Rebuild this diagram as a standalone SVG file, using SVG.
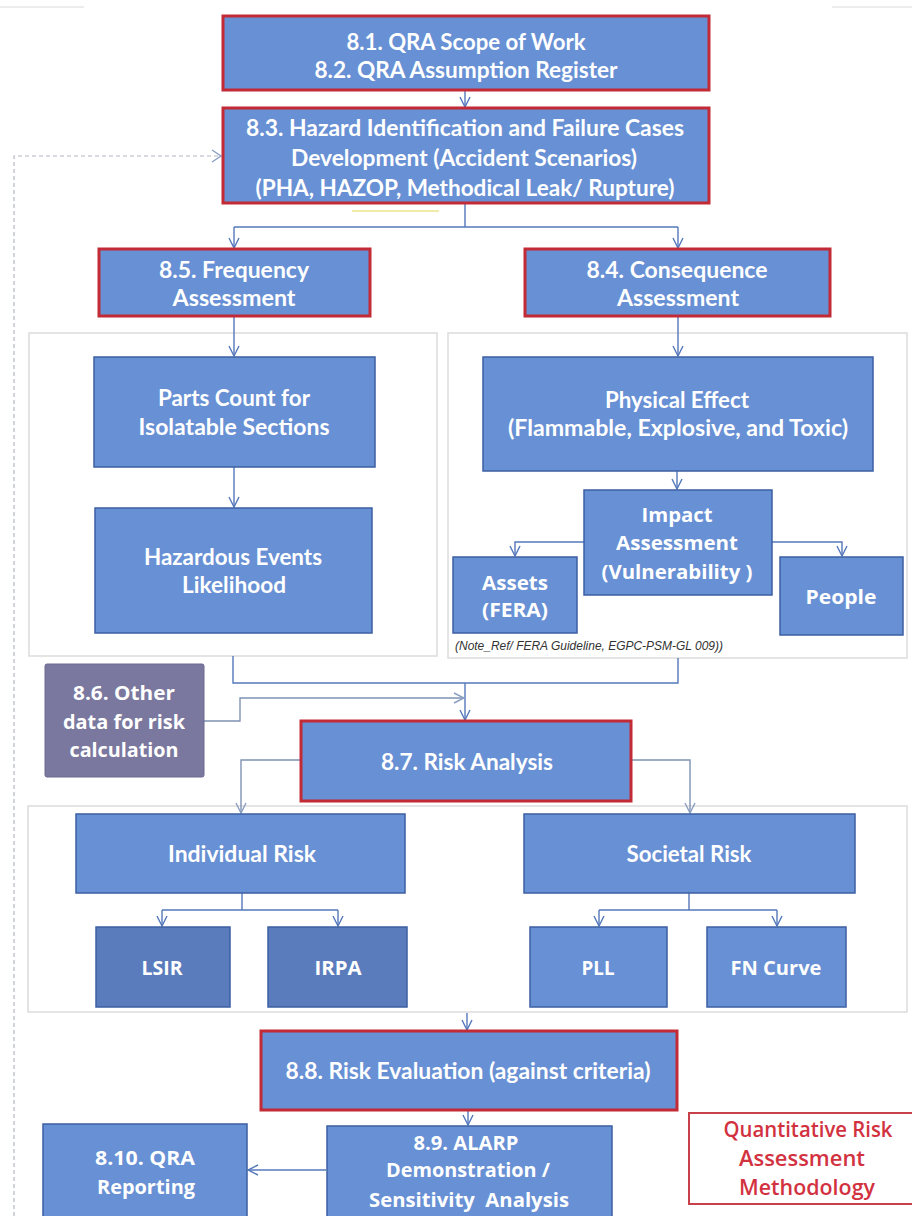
<svg xmlns="http://www.w3.org/2000/svg" width="912" height="1216" viewBox="0 0 912 1216">
  <style>
    .box { fill: #6890d4; stroke: #3d5fa3; stroke-width: 1.5; }
    .key { fill: #6890d4; stroke: #c22a35; stroke-width: 3; }
    .dark { fill: #5a7cbc; stroke: #3d5fa3; stroke-width: 1.5; }
    .grey { fill: #7a789e; stroke: #6a6890; stroke-width: 1; }
    .panel { fill: #ffffff; stroke: #dcdcdc; stroke-width: 1.5; }
    .t { font-family: Lato, "Liberation Sans", sans-serif; font-weight: 700; font-size: 23px; fill: #ffffff; text-anchor: middle; }
    .s { font-family: "Open Sans", "Liberation Sans", sans-serif; font-weight: 700; font-size: 20px; fill: #ffffff; text-anchor: middle; }
    .title { font-family: "Open Sans", "Liberation Sans", sans-serif; font-weight: 600; font-size: 21px; fill: #d2323f; text-anchor: middle; }
    .note { font-family: "Liberation Sans", sans-serif; font-style: italic; font-size: 13px; fill: #333333; }
    .wire { fill: none; stroke: #5478bb; stroke-width: 1.4; }
    .wire2 { fill: none; stroke: #7f93b4; stroke-width: 1.4; }
    .fb { fill: none; stroke: #b3b8c2; stroke-width: 1.2; stroke-dasharray: 4 3; }
  </style>
  <defs>
    <marker id="arr" viewBox="0 0 12 12" refX="11" refY="6" markerWidth="12" markerHeight="12" markerUnits="userSpaceOnUse" orient="auto">
      <path d="M1,1 L11,6 L1,11" fill="none" stroke="#5478bb" stroke-width="1.4"/>
    </marker>
    <marker id="arrg" viewBox="0 0 12 12" refX="11" refY="6" markerWidth="12" markerHeight="12" markerUnits="userSpaceOnUse" orient="auto">
      <path d="M1,1 L11,6 L1,11" fill="none" stroke="#8a9ec0" stroke-width="1.4"/>
    </marker>
  </defs>

  <rect x="0" y="0" width="912" height="1216" fill="#ffffff"/>
  <!-- faint page edge at the top -->
  <path d="M0,7 H84 M832,7 H912" stroke="#e6e6e6" stroke-width="1.5"/>

  <!-- background panels grouping the branches -->
  <g id="panels">
    <rect class="panel" x="29" y="333" width="408" height="323"/>
    <rect class="panel" x="448" y="333" width="459" height="325"/>
    <rect class="panel" x="28" y="806" width="879" height="206"/>
  </g>

  <g id="connectors">
    <path class="wire" d="M465,90 V107" marker-end="url(#arr)"/>
    <path class="wire" d="M465,203 V227 M234,227 H678"/>
    <path class="wire" d="M234,227 V248" marker-end="url(#arr)"/>
    <path class="wire" d="M678,227 V248" marker-end="url(#arr)"/>
    <path class="wire" d="M234,316 V356" marker-end="url(#arr)"/>
    <path class="wire" d="M234,467 V507" marker-end="url(#arr)"/>
    <path class="wire" d="M678,316 V356" marker-end="url(#arr)"/>
    <path class="wire" d="M677,471 V489" marker-end="url(#arr)"/>
    <path class="wire" d="M584,542 H515 V556" marker-end="url(#arr)"/>
    <path class="wire" d="M772,542 H842 V556" marker-end="url(#arr)"/>
    <path class="wire" d="M233,656 V683 H678 V658"/>
    <path class="wire" d="M465,683 V720" marker-end="url(#arr)"/>
    <path class="wire2" d="M204,721 H240 V698 H464" marker-end="url(#arrg)"/>
    <path class="wire2" d="M301,760 H241 V813" marker-end="url(#arrg)"/>
    <path class="wire2" d="M631,760 H690 V813" marker-end="url(#arrg)"/>
    <path class="wire" d="M242,893 V910 M162,910 H338"/>
    <path class="wire" d="M162,910 V926" marker-end="url(#arr)"/>
    <path class="wire" d="M338,910 V926" marker-end="url(#arr)"/>
    <path class="wire" d="M689,893 V910 M599,910 H777"/>
    <path class="wire" d="M599,910 V926" marker-end="url(#arr)"/>
    <path class="wire" d="M777,910 V926" marker-end="url(#arr)"/>
    <path class="wire" d="M467,1013 V1030" marker-end="url(#arr)"/>
    <path class="wire" d="M468,1110 V1125" marker-end="url(#arr)"/>
    <path class="wire" d="M326,1170 H248" marker-end="url(#arr)"/>
    <!-- feedback loop back to hazard identification -->
    <path class="fb" d="M14,1216 V156 H220"/>
    <path d="M212,150 L221,156 L212,162" fill="none" stroke="#8a9ec0" stroke-width="1.4"/>
  </g>

  <g id="n-scope">
    <rect class="key" x="223" y="16" width="486" height="74"/>
    <text class="t" x="466" y="50" textLength="239" lengthAdjust="spacingAndGlyphs">8.1. QRA Scope of Work</text>
    <text class="t" x="466" y="78" textLength="303" lengthAdjust="spacingAndGlyphs">8.2. QRA Assumption Register</text>
  </g>

  <g id="n-hazid">
    <rect class="key" x="223" y="108" width="486" height="95"/>
    <text class="t" x="465" y="136" textLength="438" lengthAdjust="spacingAndGlyphs">8.3. Hazard Identification and Failure Cases</text>
    <text class="t" x="464" y="166" textLength="346" lengthAdjust="spacingAndGlyphs">Development (Accident Scenarios)</text>
    <text class="t" x="465" y="196" textLength="419" lengthAdjust="spacingAndGlyphs">(PHA, HAZOP, Methodical Leak/ Rupture)</text>
  </g>
  <path d="M352,211 H439" stroke="#f2eaa8" stroke-width="2"/>

  <g id="n-frequency">
    <rect class="key" x="99" y="249" width="271" height="67"/>
    <text class="t" x="234" y="278" textLength="150" lengthAdjust="spacingAndGlyphs">8.5. Frequency</text>
    <text class="t" x="234" y="306" textLength="123" lengthAdjust="spacingAndGlyphs">Assessment</text>
  </g>

  <g id="n-consequence">
    <rect class="key" x="525" y="249" width="305" height="67"/>
    <text class="t" x="677" y="278" textLength="181" lengthAdjust="spacingAndGlyphs">8.4. Consequence</text>
    <text class="t" x="678" y="306" textLength="122" lengthAdjust="spacingAndGlyphs">Assessment</text>
  </g>

  <g id="n-parts">
    <rect class="box" x="94" y="357" width="281" height="110"/>
    <text class="t" x="234" y="406" textLength="152" lengthAdjust="spacingAndGlyphs">Parts Count for</text>
    <text class="t" x="234" y="435" textLength="191" lengthAdjust="spacingAndGlyphs">Isolatable Sections</text>
  </g>

  <g id="n-likelihood">
    <rect class="box" x="95" y="508" width="277" height="125"/>
    <text class="t" x="233" y="565" textLength="178" lengthAdjust="spacingAndGlyphs">Hazardous Events</text>
    <text class="t" x="234" y="593" textLength="104" lengthAdjust="spacingAndGlyphs">Likelihood</text>
  </g>

  <g id="n-physical">
    <rect class="box" x="483" y="357" width="390" height="114"/>
    <text class="t" x="677" y="408" textLength="144" lengthAdjust="spacingAndGlyphs">Physical Effect</text>
    <text class="t" x="678" y="436" textLength="340" lengthAdjust="spacingAndGlyphs">(Flammable, Explosive, and Toxic)</text>
  </g>

  <g id="n-impact">
    <rect class="box" x="584" y="490" width="188" height="105"/>
    <text class="s" x="677" y="522" textLength="71" lengthAdjust="spacingAndGlyphs">Impact</text>
    <text class="s" x="677" y="550" textLength="122" lengthAdjust="spacingAndGlyphs">Assessment</text>
    <text class="s" x="677" y="579" textLength="151" lengthAdjust="spacingAndGlyphs">(Vulnerability )</text>
  </g>

  <g id="n-assets">
    <rect class="box" x="453" y="557" width="124" height="76"/>
    <text class="s" x="515" y="590" textLength="66" lengthAdjust="spacingAndGlyphs">Assets</text>
    <text class="s" x="515" y="617" textLength="66" lengthAdjust="spacingAndGlyphs">(FERA)</text>
  </g>

  <g id="n-people">
    <rect class="box" x="780" y="557" width="123" height="78"/>
    <text class="s" x="841" y="604" textLength="71" lengthAdjust="spacingAndGlyphs">People</text>
  </g>

  <text class="note" x="455" y="650" textLength="268" lengthAdjust="spacingAndGlyphs">(Note_Ref/ FERA Guideline, EGPC-PSM-GL 009))</text>

  <g id="n-otherdata">
    <rect class="grey" x="45" y="664" width="159" height="113" rx="2"/>
    <text class="s" x="124" y="700" textLength="102" lengthAdjust="spacingAndGlyphs">8.6. Other</text>
    <text class="s" x="124" y="729" textLength="122" lengthAdjust="spacingAndGlyphs">data for risk</text>
    <text class="s" x="124" y="757" textLength="109" lengthAdjust="spacingAndGlyphs">calculation</text>
  </g>

  <g id="n-analysis">
    <rect class="key" x="301" y="721" width="330" height="80"/>
    <text class="t" x="467" y="770" textLength="172" lengthAdjust="spacingAndGlyphs">8.7. Risk Analysis</text>
  </g>

  <g id="n-individual">
    <rect class="box" x="76" y="814" width="329" height="79"/>
    <text class="t" x="242" y="862" textLength="148" lengthAdjust="spacingAndGlyphs">Individual Risk</text>
  </g>

  <g id="n-societal">
    <rect class="box" x="524" y="814" width="331" height="79"/>
    <text class="t" x="689" y="862" textLength="125" lengthAdjust="spacingAndGlyphs">Societal Risk</text>
  </g>

  <g id="n-lsir">
    <rect class="dark" x="96" y="927" width="134" height="80"/>
    <text class="s" x="162" y="975" textLength="41" lengthAdjust="spacingAndGlyphs">LSIR</text>
  </g>

  <g id="n-irpa">
    <rect class="dark" x="268" y="927" width="139" height="80"/>
    <text class="s" x="338" y="975" textLength="47" lengthAdjust="spacingAndGlyphs">IRPA</text>
  </g>

  <g id="n-pll">
    <rect class="box" x="530" y="927" width="137" height="80"/>
    <text class="s" x="598" y="975" textLength="33" lengthAdjust="spacingAndGlyphs">PLL</text>
  </g>

  <g id="n-fn">
    <rect class="box" x="707" y="927" width="139" height="80"/>
    <text class="s" x="776" y="975" textLength="91" lengthAdjust="spacingAndGlyphs">FN Curve</text>
  </g>

  <g id="n-evaluation">
    <rect class="key" x="261" y="1031" width="416" height="79"/>
    <text class="t" x="468" y="1079" textLength="365" lengthAdjust="spacingAndGlyphs">8.8. Risk Evaluation (against criteria)</text>
  </g>

  <g id="n-alarp">
    <rect class="box" x="327" y="1126" width="285" height="100"/>
    <text class="s" x="466" y="1150" textLength="105" lengthAdjust="spacingAndGlyphs">8.9. ALARP</text>
    <text class="s" x="468" y="1177" textLength="164" lengthAdjust="spacingAndGlyphs">Demonstration /</text>
    <text class="s" x="469" y="1207" textLength="200" lengthAdjust="spacingAndGlyphs" xml:space="preserve">Sensitivity  Analysis</text>
  </g>

  <g id="n-reporting">
    <rect class="box" x="43" y="1124" width="204" height="100"/>
    <text class="s" x="145" y="1165" textLength="100" lengthAdjust="spacingAndGlyphs">8.10. QRA</text>
    <text class="s" x="146" y="1194" textLength="98" lengthAdjust="spacingAndGlyphs">Reporting</text>
  </g>

  <g id="title">
    <rect x="689" y="1113" width="240" height="91" fill="#ffffff" stroke="#c8404a" stroke-width="2"/>
    <text class="title" x="808" y="1137" textLength="169" lengthAdjust="spacingAndGlyphs">Quantitative Risk</text>
    <text class="title" x="802" y="1166" textLength="126" lengthAdjust="spacingAndGlyphs">Assessment</text>
    <text class="title" x="807" y="1195" textLength="136" lengthAdjust="spacingAndGlyphs">Methodology</text>
  </g>
</svg>
